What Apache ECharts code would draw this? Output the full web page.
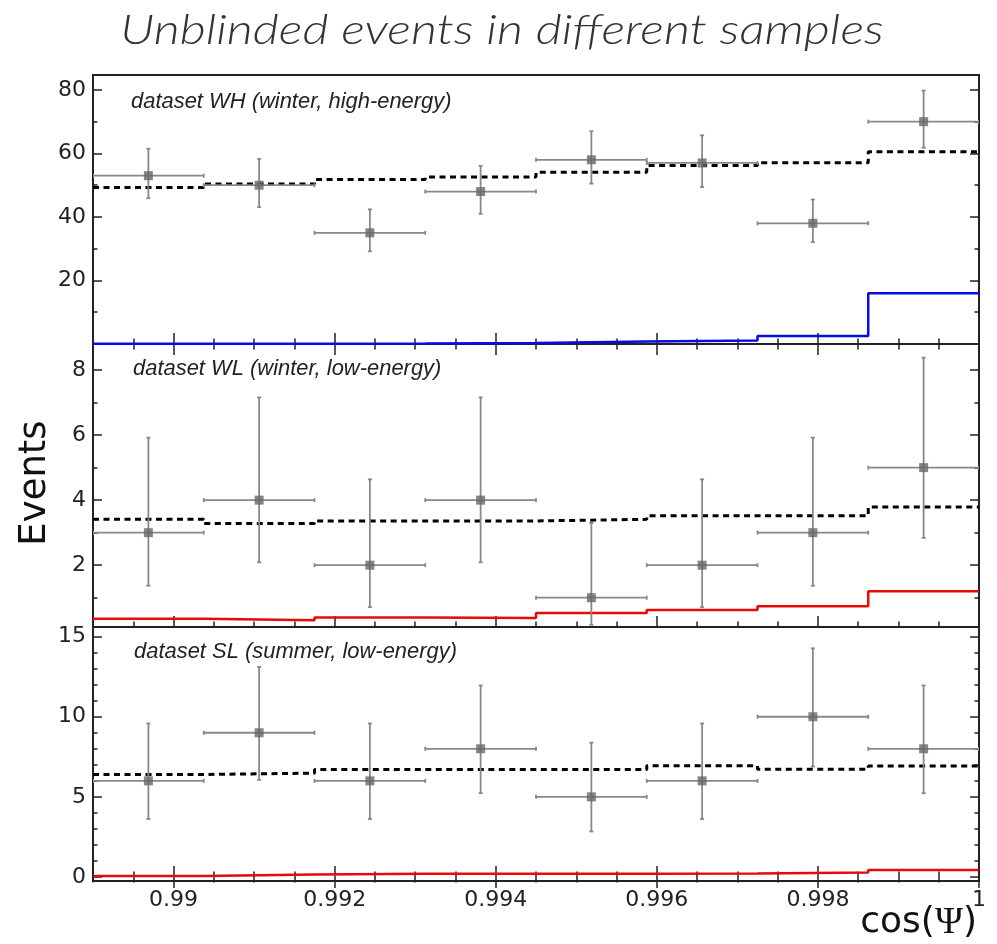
<!DOCTYPE html>
<html>
<head>
<meta charset="utf-8">
<script src="https://cdn.jsdelivr.net/npm/echarts@6/dist/echarts.min.js"></script>
<style>
  html, body { margin: 0; background: #fff; }
  #main { width: 997px; height: 944px; }
</style>
</head>
<body>
<div id="main"></div>
<script>
// bin edges in cos(psi), 8 bins
var binEdges = [0.989, 0.990375, 0.99175, 0.993125, 0.9945, 0.995875, 0.99725, 0.998625, 1.0];
var xMajorTicks = [0.99, 0.992, 0.994, 0.996, 0.998, 1];

// WH (winter, high-energy)
var whData = [53, 50, 35, 48, 58, 57, 38, 70];
var whLow  = [45.9, 43.1, 29.2, 41.0, 50.5, 49.4, 32.1, 61.8];
var whHigh = [61.5, 58.3, 42.4, 56.1, 67.0, 65.7, 45.5, 79.8];
var whBkg  = [49.3, 50.4, 51.8, 52.6, 54.1, 56.2, 57.1, 60.5];
var whSig  = [0.05, 0.08, 0.12, 0.3, 0.8, 1.1, 2.5, 16.0];
var whYMajor = [20, 40, 60, 80];
var whYMinor = [10, 30, 50, 70];

// WL (winter, low-energy)
var wlData = [3, 4, 2, 4, 1, 2, 3, 5];
var wlLow  = [1.37, 2.09, 0.71, 2.09, 0.17, 0.71, 1.37, 2.84];
var wlHigh = [5.92, 7.16, 4.64, 7.16, 3.30, 4.64, 5.92, 8.38];
var wlBkg  = [3.41, 3.28, 3.36, 3.36, 3.41, 3.52, 3.52, 3.79];
var wlSig  = [0.35, 0.31, 0.39, 0.38, 0.53, 0.62, 0.74, 1.2];
var wlYMajor = [2, 4, 6, 8];
var wlYMinor = [1, 3, 5, 7];

// SL (summer, low-energy)
var slData = [6, 9, 6, 8, 5, 6, 10, 8];
var slLow  = [3.62, 6.06, 3.62, 5.23, 2.84, 3.62, 6.89, 5.23];
var slHigh = [9.58, 13.11, 9.58, 11.95, 8.38, 9.58, 14.27, 11.95];
var slBkg  = [6.40, 6.48, 6.71, 6.71, 6.71, 6.94, 6.73, 6.92];
var slSig  = [0.06, 0.15, 0.2, 0.2, 0.2, 0.22, 0.28, 0.44];
var slYMajor = [0, 5, 10, 15];
var slYMinor = [1, 2, 3, 4, 6, 7, 8, 9, 11, 12, 13, 14];

var panels = [
  { label: 'dataset WH (winter, high-energy)', data: whData, low: whLow, high: whHigh, bkg: whBkg, sig: whSig,
    sigColor: '#0a0ae6', yMin: 0, yMax: 84.7, yMajor: whYMajor, yMinor: whYMinor, yLabels: whYMajor,
    top: 75, height: 269, lx: 131, ly: 102 },
  { label: 'dataset WL (winter, low-energy)', data: wlData, low: wlLow, high: wlHigh, bkg: wlBkg, sig: wlSig,
    sigColor: '#e60a0a', yMin: 0.1, yMax: 8.8, yMajor: wlYMajor, yMinor: wlYMinor, yLabels: wlYMajor,
    top: 344, height: 283, lx: 133, ly: 369 },
  { label: 'dataset SL (summer, low-energy)', data: slData, low: slLow, high: slHigh, bkg: slBkg, sig: slSig,
    sigColor: '#e60a0a', yMin: -0.25, yMax: 15.6, yMajor: slYMajor, yMinor: slYMinor, yLabels: slYMajor,
    top: 627, height: 254, lx: 134, ly: 652 }
];

var tickColor = '#222';
var font = 'DejaVu Sans';

function xAx(i, pos, len, extra, showLabel) {
  var ax = {
    type: 'value', gridIndex: i, min: 0.989, max: 1, position: pos,
    axisLine: { show: false }, splitLine: { show: false },
    axisTick: { show: true, inside: true, length: len, lineStyle: { color: tickColor, width: 1.5 } },
    axisLabel: { show: !!showLabel, customValues: xMajorTicks, color: '#222', fontSize: 22, fontFamily: font, margin: 8 }
  };
  if (extra.customValues) ax.axisTick.customValues = extra.customValues;
  if (extra.interval) ax.interval = extra.interval;
  return ax;
}

function yAx(i, p, pos, len, ticks, showLabel) {
  return {
    type: 'value', gridIndex: i, min: p.yMin, max: p.yMax, position: pos,
    axisLine: { show: false }, splitLine: { show: false },
    axisTick: { show: true, inside: true, length: len, customValues: ticks, lineStyle: { color: tickColor, width: 1.5 } },
    axisLabel: { show: !!showLabel, customValues: p.yLabels, color: '#222', fontSize: 22, fontFamily: font, margin: 7 }
  };
}

function stepData(vals) {
  return binEdges.map(function (e, k) { return [e, vals[Math.min(k, vals.length - 1)]]; });
}

function renderErr(params, api) {
  var x = api.value(0), y = api.value(1);
  var pl = api.coord([api.value(4), y]), pr = api.coord([api.value(5), y]);
  var pb = api.coord([x, api.value(2)]), pt = api.coord([x, api.value(3)]);
  var st = { stroke: '#888', lineWidth: 1.8 };
  var c = 2;
  function ln(x1, y1, x2, y2) { return { type: 'line', shape: { x1: x1, y1: y1, x2: x2, y2: y2 }, style: st }; }
  return {
    type: 'group',
    children: [
      ln(pl[0], pl[1], pr[0], pr[1]),
      ln(pb[0], pb[1], pt[0], pt[1]),
      ln(pl[0], pl[1] - c, pl[0], pl[1] + c),
      ln(pr[0], pr[1] - c, pr[0], pr[1] + c),
      ln(pt[0] - c, pt[1], pt[0] + c, pt[1]),
      ln(pb[0] - c, pb[1], pb[0] + c, pb[1])
    ]
  };
}

var grid = [], xAxis = [], yAxis = [], series = [];
var graphic = [];

panels.forEach(function (p, i) {
  grid.push({ left: 93, width: 886, top: p.top, height: p.height, show: true,
    borderColor: '#222', borderWidth: 2, backgroundColor: 'transparent' });

  xAxis.push(xAx(i, 'bottom', 11, { customValues: xMajorTicks }, i === 2));
  xAxis.push(xAx(i, 'bottom', 5.5, { interval: 0.0005 }, false));
  xAxis.push(xAx(i, 'top', 11, { customValues: xMajorTicks }, false));
  xAxis.push(xAx(i, 'top', 5.5, { interval: 0.0005 }, false));

  yAxis.push(yAx(i, p, 'left', 9, p.yMajor, true));
  yAxis.push(yAx(i, p, 'left', 4.5, p.yMinor, false));
  yAxis.push(yAx(i, p, 'right', 9, p.yMajor, false));
  yAxis.push(yAx(i, p, 'right', 4.5, p.yMinor, false));

  var xi = i * 4, yi = i * 4;

  series.push({
    type: 'line', xAxisIndex: xi, yAxisIndex: yi, step: 'end', symbol: 'none', z: 2,
    data: stepData(p.bkg), lineStyle: { color: '#000', width: 3, type: [6, 4.5] }
  });
  series.push({
    type: 'line', xAxisIndex: xi, yAxisIndex: yi, step: 'end', symbol: 'none', z: 3,
    data: stepData(p.sig), lineStyle: { color: p.sigColor, width: 2.5 }
  });

  var errData = p.data.map(function (v, k) {
    var x0 = binEdges[k], x1 = binEdges[k + 1];
    return [(x0 + x1) / 2, v, p.low[k], p.high[k], x0, x1];
  });
  series.push({
    type: 'custom', xAxisIndex: xi, yAxisIndex: yi, z: 4, clip: true,
    renderItem: renderErr, data: errData, encode: { x: 0, y: 1 }
  });
  series.push({
    type: 'scatter', xAxisIndex: xi, yAxisIndex: yi, z: 5, symbol: 'rect', symbolSize: 9,
    itemStyle: { color: '#666' },
    data: errData.map(function (d) { return [d[0], d[1]]; })
  });

  graphic.push({
    type: 'text', x: p.lx, y: p.ly, z: 10, scaleX: 1.02,
    style: { text: p.label, fontFamily: 'Liberation Sans', fontStyle: 'italic', fontSize: 21.5, fill: '#222',
      textAlign: 'left', textVerticalAlign: 'middle' }
  });
});

graphic.push({
  type: 'text', x: 502, y: 30, z: 10, scaleX: 1.2,
  style: { text: 'Unblinded events in different samples', fontFamily: 'Lato', fontStyle: 'italic', fontWeight: 300,
    fontSize: 42, fill: '#333', textAlign: 'center', textVerticalAlign: 'middle' }
});
graphic.push({
  type: 'text', x: 35, y: 483, rotation: Math.PI / 2, z: 10,
  style: { text: 'Events', fontFamily: font, fontSize: 37, fill: '#111', textAlign: 'center', textVerticalAlign: 'middle' }
});
graphic.push({
  type: 'text', x: 977, y: 923, z: 10,
  style: {
    text: '{a|cos(}{b|Ψ}{a|)}', textAlign: 'right', textVerticalAlign: 'middle',
    rich: {
      a: { fontFamily: font, fontSize: 36, fill: '#111' },
      b: { fontFamily: 'Liberation Serif', fontSize: 38, fill: '#111' }
    }
  }
});

var chart = echarts.init(document.getElementById('main'));
chart.setOption({
  animation: false,
  backgroundColor: '#fff',
  grid: grid,
  xAxis: xAxis,
  yAxis: yAxis,
  series: series,
  graphic: graphic
});
</script>
</body>
</html>
